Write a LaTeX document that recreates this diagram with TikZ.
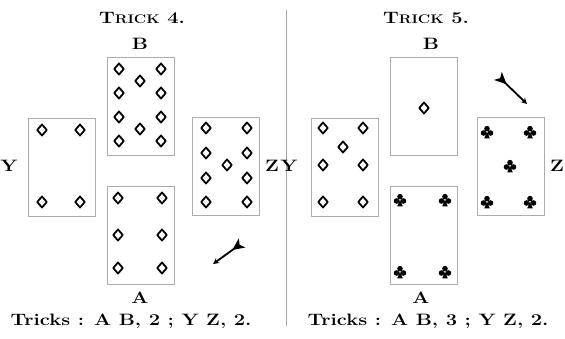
\documentclass[tikz,border=0pt]{standalone}
\usepackage{graphicx}
\usetikzlibrary{arrows.meta}
\newcommand{\wtxt}[1]{\scalebox{1.22}[1]{#1}}
\newcommand{\fsc}[2]{#1{\fontsize{12.5}{14}\selectfont #2}}
\tikzset{
  card/.style={draw=gray!65, line width=0.8pt, minimum width=67pt, minimum height=98pt, inner sep=0pt},
  lab/.style={font=\fontsize{16.5}{19}\selectfont\bfseries, inner sep=0pt},
  pip/.style={draw=black, line width=1.8pt, fill=white, line join=round},
  diam/.pic={\draw[pip] (0,-5.5)--(4.8,0)--(0,5.5)--(-4.8,0)--cycle;},
  club/.pic={\fill[black] (0,-3.4) circle (2.8pt) (-3.5,1.0) circle (2.8pt) (3.5,1.0) circle (2.8pt);
             \fill[black] (0,-0.5)--(-2.8,6.4)--(2.8,6.4)--cycle;},
  dart/.style={line width=1.8pt, {Stealth[reversed,length=12pt,width=11pt,inset=3pt]}-{Stealth[length=6pt,width=6pt]}},
}
\begin{document}
\begin{tikzpicture}[x=1pt,y=-1pt]
\useasboundingbox[fill=white] (0,0) rectangle (565,339);
% separator
\coordinate (s1) at (286,10);
\coordinate (s2) at (286,326);
\draw[gray!70, line width=0.9pt] (s1) -- (s2);

% ---------- Trick 4 ----------
\node[lab] (t4) at (142,18) {\wtxt{\fsc{T}{RICK} 4.}};
\node[lab] (lb4) at (140,44) {\wtxt{B}};
\node[lab] (la4) at (140,298) {\wtxt{A}};
\node[lab] (ly4) at (9,166) {\wtxt{Y}};
\node[lab] (lz4) at (272,166) {\wtxt{Z}};
\node[lab] (r4) at (131,321) {\wtxt{Tricks : A B, 2 ; Y Z, 2.}};

\node[card] (B4) at (141,106.5) {};
\node[card] (Y4) at (61.5,167.5) {};
\node[card] (A4) at (141,235) {};
\node[card] (Z4) at (225.5,166.5) {};

% B4: ten of diamonds
\foreach \yy in {69,93,117,141} {\pic at (119,\yy) {diam}; \pic at (161,\yy) {diam};}
\pic at (140,81) {diam}; \pic at (140,129) {diam};
% Y4: four of diamonds
\foreach \xx in {42,80} {\pic at (\xx,130) {diam}; \pic at (\xx,202) {diam};}
% A4: six of diamonds
\foreach \yy in {198,235,268} {\pic at (118,\yy) {diam}; \pic at (162,\yy) {diam};}
% Z4: nine of diamonds
\foreach \yy in {128,153,178,202} {\pic at (206,\yy) {diam}; \pic at (247,\yy) {diam};}
\pic at (227,165) {diam};

\coordinate (d4t) at (242,243);
\coordinate (d4h) at (213,264);
\draw[dart] (d4t) -- (d4h);

% ---------- Trick 5 ----------
\node[lab] (t5) at (426,18) {\wtxt{\fsc{T}{RICK} 5.}};
\node[lab] (lb5) at (431,44) {\wtxt{B}};
\node[lab] (la5) at (421,298) {\wtxt{A}};
\node[lab] (ly5) at (289,166) {\wtxt{Y}};
\node[lab] (lz5) at (557,166) {\wtxt{Z}};
\node[lab] (r5) at (428,321) {\wtxt{Tricks : A B, 3 ; Y Z, 2.}};

\node[card] (B5) at (424,106.5) {};
\node[card] (Y5) at (344.5,167.5) {};
\node[card] (A5) at (424,235) {};
\node[card] (Z5) at (510.5,166.5) {};

% B5: ace of diamonds
\pic at (424,108) {diam};
% Y5: seven of diamonds
\foreach \yy in {128,165,202} {\pic at (323,\yy) {diam}; \pic at (363,\yy) {diam};}
\pic at (343,147) {diam};
% A5: four of clubs
\foreach \xx in {400,445} {\pic at (\xx,200) {club}; \pic at (\xx,272) {club};}
% Z5: five of clubs
\foreach \xx in {487,530} {\pic at (\xx,132) {club}; \pic at (\xx,202) {club};}
\pic at (510,166) {club};

\coordinate (d5t) at (498,76);
\coordinate (d5h) at (527,104);
\draw[dart] (d5t) -- (d5h);
\end{tikzpicture}
\end{document}
